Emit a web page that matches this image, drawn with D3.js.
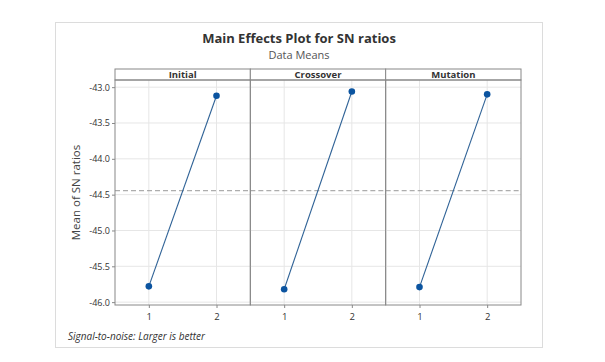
<!DOCTYPE html>
<html>
    <head>
        <meta charset="utf-8"/>
        <script src="https://cdnjs.cloudflare.com/ajax/libs/d3/7.8.5/d3.min.js"></script>
        <style>
            body { margin: 0; background: #fff; }
            text { font-family: "Open Sans", "DejaVu Sans", sans-serif; }
        </style>
    </head>
    <body>
        <script>
            // factors and their level means
            const factors = ["Initial", "Crossover", "Mutation"];
            const levels = [1, 2];
            const initialMeans = [-45.78, -43.12];
            const crossoverMeans = [-45.82, -43.06];
            const mutationMeans = [-45.79, -43.10];
            const yTicks = [-46.0, -45.5, -45.0, -44.5, -44.0, -43.5, -43.0];

            const means = [initialMeans, crossoverMeans, mutationMeans];
            const grandMean = d3.mean(means.flat());

            const width = 605, height = 362;
            const plotLeft = 115, plotRight = 521, plotTop = 80, plotBottom = 305, stripH = 11;
            const panelW = (plotRight - plotLeft) / factors.length;

            // minitab writes a plain hyphen, not the unicode minus
            const fmt = d => d.toFixed(1);

            const svg = d3.select("body").append("svg")
                .attr("width", width)
                .attr("height", height);

            // outer frame
            svg.append("rect")
                .attr("x", 55.5).attr("y", 22.5)
                .attr("width", 487).attr("height", 325)
                .attr("fill", "none").attr("stroke", "#dcdcdc");

            svg.append("text")
                .attr("x", 299).attr("y", 43)
                .attr("text-anchor", "middle")
                .attr("font-size", 13).attr("font-weight", "bold")
                .attr("fill", "#333")
                .text("Main Effects Plot for SN ratios");

            svg.append("text")
                .attr("x", 299).attr("y", 59)
                .attr("text-anchor", "middle")
                .attr("font-size", 11)
                .attr("fill", "#555")
                .text("Data Means");

            let y = d3.scaleLinear()
                .domain([-46.04, -42.9])
                .range([plotBottom, plotTop]);

            // y axis
            svg.append("g")
                .attr("transform", `translate(${plotLeft},0)`)
                .call(d3.axisLeft(y).tickValues(yTicks).tickFormat(fmt).tickSize(3).tickPadding(2))
                .call(g => g.select(".domain").remove())
                .call(g => g.selectAll("line").attr("stroke", "#888"))
                .call(g => g.selectAll("text").attr("font-size", 9).attr("fill", "#333")
                    .style("font-family", "\"Open Sans\", sans-serif"));

            svg.append("text")
                .attr("transform", `translate(80,${(plotTop + plotBottom) / 2}) rotate(-90)`)
                .attr("text-anchor", "middle")
                .attr("font-size", 11.5)
                .attr("fill", "#444")
                .text("Mean of SN ratios");

            factors.forEach((f, i) => {
                const x0 = plotLeft + i * panelW;
                let x = d3.scaleLinear()
                    .domain([0.5, 2.5])
                    .range([x0, x0 + panelW]);

                const g = svg.append("g");

                // grid
                g.selectAll(".hgrid").data(yTicks).join("line")
                    .attr("x1", x0).attr("x2", x0 + panelW)
                    .attr("y1", d => y(d)).attr("y2", d => y(d))
                    .attr("stroke", "#e6e6e6");
                g.selectAll(".vgrid").data(levels).join("line")
                    .attr("x1", d => x(d)).attr("x2", d => x(d))
                    .attr("y1", plotTop).attr("y2", plotBottom)
                    .attr("stroke", "#e6e6e6");

                // x axis
                g.append("g")
                    .attr("transform", `translate(0,${plotBottom})`)
                    .call(d3.axisBottom(x).tickValues(levels).tickFormat(d3.format("d")).tickSize(3).tickPadding(5))
                    .call(a => a.select(".domain").remove())
                    .call(a => a.selectAll("line").attr("stroke", "#888"))
                    .call(a => a.selectAll("text").attr("font-size", 9.5).attr("fill", "#333")
                        .style("font-family", "\"Open Sans\", sans-serif"));

                // grand mean
                g.append("line")
                    .attr("x1", x0).attr("x2", x0 + panelW)
                    .attr("y1", y(grandMean)).attr("y2", y(grandMean))
                    .attr("stroke", "#999").attr("stroke-dasharray", "5,3");

                const pts = levels.map((l, j) => [l, means[i][j]]);
                g.append("path")
                    .datum(pts)
                    .attr("fill", "none")
                    .attr("stroke", "#2f6296")
                    .attr("stroke-width", 1.1)
                    .attr("d", d3.line().x(d => x(d[0])).y(d => y(d[1])));
                g.selectAll("circle").data(pts).join("circle")
                    .attr("cx", d => x(d[0])).attr("cy", d => y(d[1]))
                    .attr("r", 3.3)
                    .attr("fill", "#0b54a0");

                // strip
                g.append("rect")
                    .attr("x", x0).attr("y", plotTop - stripH)
                    .attr("width", panelW).attr("height", stripH)
                    .attr("fill", "#fff").attr("stroke", "#888");
                g.append("text")
                    .attr("x", x0 + panelW / 2).attr("y", plotTop - 2)
                    .attr("text-anchor", "middle")
                    .attr("font-size", 9.5).attr("font-weight", "bold")
                    .attr("fill", "#333")
                    .text(f);

                // panel border
                g.append("rect")
                    .attr("x", x0).attr("y", plotTop)
                    .attr("width", panelW).attr("height", plotBottom - plotTop)
                    .attr("fill", "none").attr("stroke", "#888");
            });

            svg.append("text")
                .attr("x", 68).attr("y", 340)
                .attr("font-size", 10).attr("font-style", "italic")
                .attr("fill", "#333")
                .text("Signal-to-noise: Larger is better");
        </script>
    </body>
</html>
